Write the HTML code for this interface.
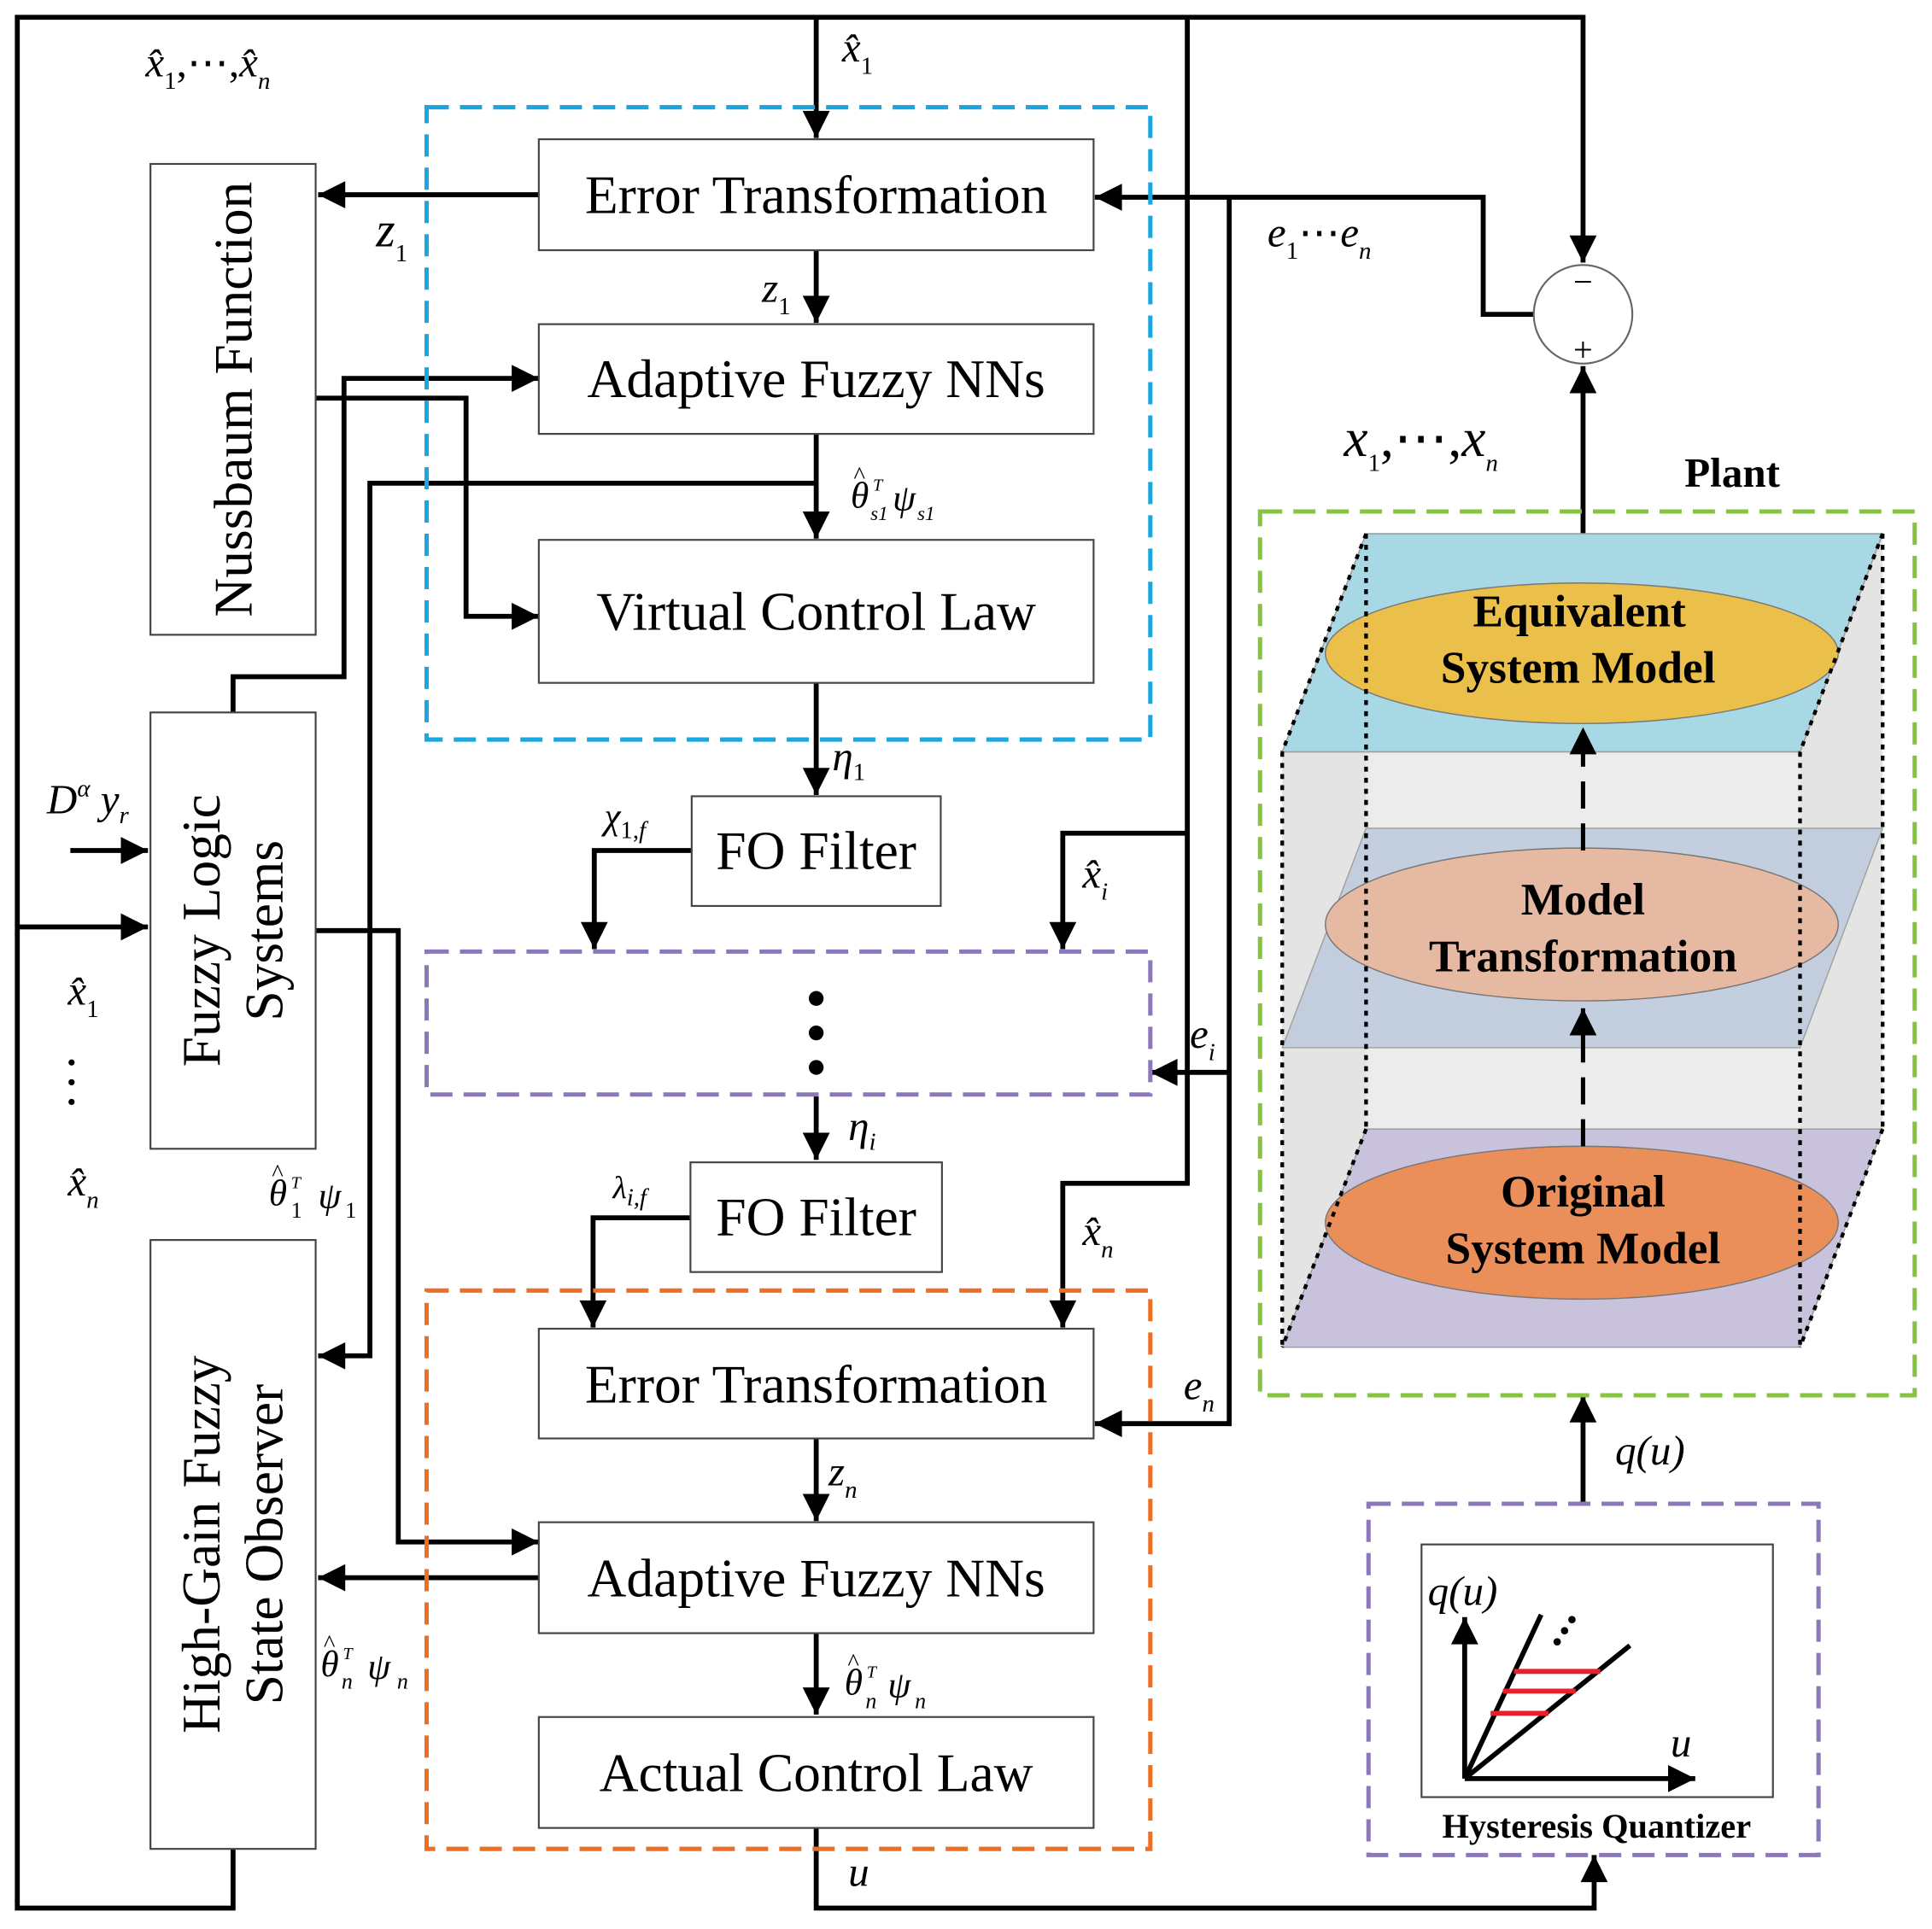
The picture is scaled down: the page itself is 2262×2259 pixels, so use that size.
<!DOCTYPE html>
<html><head><meta charset="utf-8"><style>
html,body{margin:0;padding:0;background:#fff}
svg{display:block}
text{font-family:"Liberation Serif",serif}
.b{font-size:44px}
.m{font-style:italic;font-size:34px}
.s{font-style:italic;font-size:20px}
.n{font-style:normal;font-size:20px}
</style></head><body>
<svg width="2262" height="2259" viewBox="0 0 1567 1565" xmlns="http://www.w3.org/2000/svg">
<defs>
<marker id="A" viewBox="0 0 10 10" refX="10" refY="5" markerWidth="24" markerHeight="22" orient="auto" markerUnits="userSpaceOnUse"><path d="M0,0 L10,5 L0,10 z" fill="#000"/></marker>
</defs>
<g fill="none" stroke="#000" stroke-width="4">
<polyline points="189,1500 189,1548 14,1548 14,14 1284,14 1284,213" marker-end="url(#A)"/>
<line x1="662" y1="14" x2="662" y2="112" marker-end="url(#A)"/>
<polyline points="963,14 963,676 862,676 862,770" marker-end="url(#A)"/>
<polyline points="963,676 963,960 862,960 862,1077" marker-end="url(#A)"/>
<polyline points="1244,255 1203,255 1203,160 888,160" marker-end="url(#A)"/>
<polyline points="997,160 997,1155 888,1155" marker-end="url(#A)"/>
<polyline points="997,870 933,870" marker-end="url(#A)"/>
<line x1="440" y1="158" x2="258" y2="158" marker-end="url(#A)"/>
<line x1="662" y1="203" x2="662" y2="262" marker-end="url(#A)"/>
<polyline points="256,323 378,323 378,500 437,500" marker-end="url(#A)"/>
<polyline points="189,578 189,549 279,549 279,307 437,307" marker-end="url(#A)"/>
<line x1="662" y1="352" x2="662" y2="437" marker-end="url(#A)"/>
<polyline points="662,392 300,392 300,1100 258,1100" marker-end="url(#A)"/>
<line x1="662" y1="554" x2="662" y2="645" marker-end="url(#A)"/>
<polyline points="561,690 482,690 482,770" marker-end="url(#A)"/>
<line x1="662" y1="888" x2="662" y2="941" marker-end="url(#A)"/>
<polyline points="560,988 481,988 481,1077" marker-end="url(#A)"/>
<line x1="662" y1="1167" x2="662" y2="1234" marker-end="url(#A)"/>
<line x1="440" y1="1280" x2="258" y2="1280" marker-end="url(#A)"/>
<polyline points="256,755 323,755 323,1251 437,1251" marker-end="url(#A)"/>
<line x1="662" y1="1325" x2="662" y2="1391" marker-end="url(#A)"/>
<polyline points="662,1483 662,1548 1293,1548 1293,1505" marker-end="url(#A)"/>
<line x1="57" y1="690" x2="120" y2="690" marker-end="url(#A)"/>
<line x1="14" y1="752" x2="120" y2="752" marker-end="url(#A)"/>
<line x1="1284" y1="433" x2="1284" y2="297" marker-end="url(#A)"/>
<line x1="1284" y1="1220" x2="1284" y2="1132" marker-end="url(#A)"/>
</g>
<g fill="#fff" stroke="#444" stroke-width="1.5">
<rect x="437" y="113" width="450" height="90"/>
<rect x="437" y="263" width="450" height="89"/>
<rect x="437" y="438" width="450" height="116"/>
<rect x="561" y="646" width="202" height="89"/>
<rect x="560" y="943" width="204" height="89"/>
<rect x="437" y="1078" width="450" height="89"/>
<rect x="437" y="1235" width="450" height="90"/>
<rect x="437" y="1393" width="450" height="90"/>
<rect x="122" y="133" width="134" height="382"/>
<rect x="122" y="578" width="134" height="354"/>
<rect x="122" y="1006" width="134" height="494"/>
</g>
<g fill="none" stroke-width="3.5" stroke-dasharray="18,9">
<rect x="346" y="87" width="587" height="513" stroke="#1AA7E0"/>
<rect x="346" y="772" width="587" height="116" stroke="#8A78B8"/>
<rect x="346" y="1047" width="587" height="453" stroke="#EE6E24"/>
<rect x="1022" y="415" width="531" height="717" stroke="#86C440"/>
<rect x="1110" y="1220" width="365" height="285" stroke="#8A78B8"/>
</g>
<g fill="#000"><circle cx="662" cy="810" r="6"/><circle cx="662" cy="838" r="6"/><circle cx="662" cy="866" r="6"/></g>
<g class="b" text-anchor="middle">
<text x="662" y="173">Error Transformation</text>
<text x="662" y="322">Adaptive Fuzzy NNs</text>
<text x="662" y="511">Virtual Control Law</text>
<text x="662" y="705">FO Filter</text>
<text x="662" y="1002">FO Filter</text>
<text x="662" y="1138">Error Transformation</text>
<text x="662" y="1295">Adaptive Fuzzy NNs</text>
<text x="662" y="1453">Actual Control Law</text>
<text transform="translate(204,324) rotate(-90)">Nussbaum Function</text>
<text transform="translate(178,755) rotate(-90)">Fuzzy Logic</text>
<text transform="translate(229,755) rotate(-90)">Systems</text>
<text transform="translate(178,1253) rotate(-90)">High-Gain Fuzzy</text>
<text transform="translate(229,1253) rotate(-90)">State Observer</text>
</g>
<circle cx="1284" cy="255" r="40" fill="#fff" stroke="#666" stroke-width="1.5"/>
<text x="1284" y="238" font-size="28" text-anchor="middle">−</text>
<text x="1284" y="293" font-size="28" text-anchor="middle">+</text>
<polygon points="1040,610 1108,433 1108,916 1040,1093" fill="#ddd" opacity="0.8"/>
<polygon points="1460,610 1527,433 1527,916 1460,1093" fill="#ddd" opacity="0.8"/>
<polygon points="1040,610 1460,610 1460,1093 1040,1093" fill="#e4e4e4" opacity="0.7"/>
<polygon points="1108,916 1527,916 1460,1093 1040,1093" fill="#C8C2DC" stroke="#999"/>
<polygon points="1108,672 1527,672 1460,850 1040,850" fill="#BFCCDD" stroke="#999" opacity="0.9"/>
<polygon points="1108,433 1527,433 1460,610 1040,610" fill="#A8D8E4" stroke="#999"/>
<ellipse cx="1283" cy="530" rx="208" ry="57" fill="#EBC04A" stroke="#777"/>
<ellipse cx="1283" cy="750" rx="208" ry="62" fill="#E5B9A2" stroke="#777"/>
<ellipse cx="1283" cy="992" rx="208" ry="62" fill="#EB8F5A" stroke="#777"/>
<g stroke="#000" stroke-width="3" stroke-dasharray="4,5" fill="none">
<line x1="1108" y1="433" x2="1108" y2="916"/><line x1="1040" y1="610" x2="1040" y2="1093"/>
<line x1="1460" y1="610" x2="1460" y2="1093"/><line x1="1527" y1="433" x2="1527" y2="916"/>
<line x1="1108" y1="433" x2="1040" y2="610"/><line x1="1527" y1="433" x2="1460" y2="610"/>
<line x1="1108" y1="916" x2="1040" y2="1093"/><line x1="1527" y1="916" x2="1460" y2="1093"/>
</g>
<g stroke="#000" stroke-width="3.5" stroke-dasharray="22,12" fill="none">
<line x1="1284" y1="930" x2="1284" y2="818" marker-end="url(#A)"/>
<line x1="1284" y1="690" x2="1284" y2="590" marker-end="url(#A)"/>
</g>
<g font-weight="bold" font-size="37" text-anchor="middle">
<text x="1281" y="508">Equivalent</text><text x="1280" y="554">System Model</text>
<text x="1284" y="742">Model</text><text x="1284" y="788">Transformation</text>
<text x="1284" y="979">Original</text><text x="1284" y="1025">System Model</text>
<text x="1405" y="395" font-size="34">Plant</text>
<text x="1295" y="1491" font-size="28">Hysteresis Quantizer</text>
</g>
<rect x="1153" y="1253" width="285" height="205" fill="#fff" stroke="#444" stroke-width="1.5"/>
<g stroke="#000" stroke-width="4" fill="none">
<line x1="1188" y1="1443" x2="1188" y2="1312" marker-end="url(#A)"/>
<line x1="1188" y1="1443" x2="1375" y2="1443" marker-end="url(#A)"/>
<line x1="1188" y1="1443" x2="1250" y2="1310"/>
<line x1="1188" y1="1443" x2="1322" y2="1335"/>
</g>
<g stroke="#E8202A" stroke-width="4"><line x1="1228" y1="1356" x2="1298" y2="1356"/><line x1="1219" y1="1372" x2="1278" y2="1372"/><line x1="1209" y1="1390" x2="1256" y2="1390"/></g>
<g fill="#000"><circle cx="1263" cy="1332" r="3"/><circle cx="1269" cy="1323" r="3"/><circle cx="1275" cy="1314" r="3"/></g>
<g class="m">
<text x="1158" y="1302">q(u)</text><text x="1355" y="1425">u</text>
<text x="1310" y="1188">q(u)</text>
<text x="1090" y="370" font-size="44">x<tspan class="n" dy="12" font-size="24">1</tspan><tspan dy="-12" font-style="normal">,⋯,</tspan>x<tspan class="s" dy="12" font-size="24">n</tspan></text>
<text x="1028" y="200">e<tspan class="n" dy="10">1</tspan><tspan dy="-10" font-style="normal">⋯</tspan>e<tspan class="s" dy="10">n</tspan></text>
<text x="683" y="50">x̂<tspan class="n" dy="10">1</tspan></text>
<text x="118" y="62">x̂<tspan class="n" dy="10">1</tspan><tspan dy="-10" font-style="normal">,⋯,</tspan>x̂<tspan class="s" dy="10">n</tspan></text>
<text x="305" y="200" font-size="40">z<tspan class="n" dy="12" font-size="24">1</tspan></text>
<text x="618" y="245">z<tspan class="n" dy="10">1</tspan></text>
<text x="675" y="625">η<tspan class="n" dy="8">1</tspan></text>
<text x="490" y="672" font-size="30">χ<tspan class="n" dy="8">1,</tspan><tspan class="s" dy="0">f</tspan></text>
<text x="878" y="720">x̂<tspan class="s" dy="10">i</tspan></text>
<text x="965" y="850">e<tspan class="s" dy="10">i</tspan></text>
<text x="688" y="925">η<tspan class="s" dy="8">i</tspan></text>
<text x="497" y="972" font-size="26">λ<tspan class="s" dy="6" font-size="16">i,f</tspan></text>
<text x="878" y="1010">x̂<tspan class="s" dy="10">n</tspan></text>
<text x="960" y="1135">e<tspan class="s" dy="10">n</tspan></text>
<text x="672" y="1205">z<tspan class="s" dy="10">n</tspan></text>
<text x="688" y="1530">u</text>
<text x="38" y="660">D<tspan class="s" dy="-14">α</tspan><tspan dy="14"> y</tspan><tspan class="s" dy="8">r</tspan></text>
<text x="55" y="815">x̂<tspan class="n" dy="10">1</tspan></text>
<text x="55" y="970">x̂<tspan class="s" dy="10">n</tspan></text>
</g>
<g font-style="italic">
<text x="690" y="412" font-size="30">θ</text><text x="692" y="392" font-size="20">^</text>
<text x="708" y="398" font-size="14">T</text><text x="706" y="422" font-size="16">s1</text>
<text x="724" y="414" font-size="30">ψ</text><text x="744" y="422" font-size="16">s1</text>
<text x="685" y="1375" font-size="30">θ</text><text x="687" y="1355" font-size="20">^</text>
<text x="703" y="1361" font-size="14">T</text><text x="702" y="1386" font-size="18">n</text>
<text x="720" y="1377" font-size="30">ψ</text><text x="742" y="1386" font-size="18">n</text>
<text x="218" y="978" font-size="30">θ</text><text x="220" y="958" font-size="20">^</text>
<text x="236" y="964" font-size="14">T</text><text x="236" y="988" font-size="18" font-style="normal">1</text>
<text x="258" y="980" font-size="30">ψ</text><text x="280" y="988" font-size="18" font-style="normal">1</text>
<text x="260" y="1360" font-size="30">θ</text><text x="262" y="1340" font-size="20">^</text>
<text x="278" y="1346" font-size="14">T</text><text x="277" y="1370" font-size="18">n</text>
<text x="298" y="1362" font-size="30">ψ</text><text x="322" y="1370" font-size="18">n</text>
</g>
<g fill="#000"><circle cx="58" cy="862" r="2.5"/><circle cx="58" cy="878" r="2.5"/><circle cx="58" cy="894" r="2.5"/></g>
</svg>
</body></html>
